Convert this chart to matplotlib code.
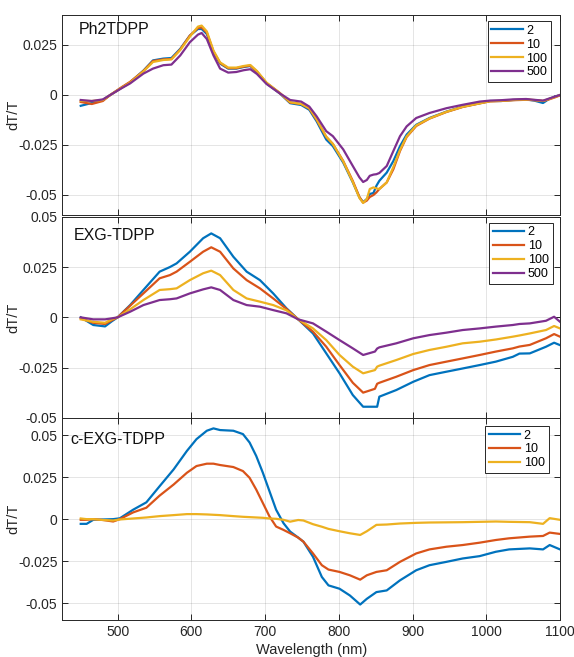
import numpy as np
import matplotlib
matplotlib.use('Agg')
import matplotlib.pyplot as plt
from matplotlib.ticker import FuncFormatter

plt.rcParams['font.family'] = ['Liberation Sans', 'DejaVu Sans']
plt.rcParams['axes.unicode_minus'] = False

colors = ['#0072BD', '#D95319', '#EDB120', '#7E2F8E']

# ---- Ph2TDPP ----
wl1 = [450, 465, 480, 490, 505, 517, 535, 548, 562, 573, 585, 598, 609, 614, 621, 630, 639, 650, 661, 671,
       680, 689, 702, 720, 734, 749, 760, 770, 783, 792, 806, 819, 828, 833, 838, 842, 847, 851, 855, 865,
       874, 883, 892, 905, 923, 946, 968, 991, 1005, 1020, 1036, 1054, 1065, 1077, 1085, 1093, 1100]
p1_2 = [-0.0054, -0.004, -0.0025, 0.0, 0.0035, 0.0063, 0.0122, 0.0173, 0.0182, 0.0185,
        0.0231, 0.0297, 0.033, 0.033, 0.0305, 0.0214, 0.0157, 0.0132, 0.0132, 0.014,
        0.0145, 0.0115, 0.0058, 0.0008, -0.0041, -0.005, -0.0074, -0.0132, -0.0223, -0.0256,
        -0.0338, -0.0437, -0.0512, -0.0536, -0.052, -0.0495, -0.049, -0.0454, -0.0429, -0.0388,
        -0.033, -0.0256, -0.0198, -0.0149, -0.0115, -0.0083, -0.0058, -0.0041, -0.003, -0.003,
        -0.0025, -0.0022, -0.0028, -0.004, -0.002, -0.0008, 0.0]
p1_10 = [-0.0035, -0.0045, -0.003, 0.0, 0.0038, 0.0066, 0.012, 0.017, 0.0178, 0.018,
         0.0228, 0.0297, 0.0335, 0.0338, 0.0312, 0.0218, 0.016, 0.0134, 0.0134, 0.0142,
         0.0147, 0.0117, 0.006, 0.001, -0.0038, -0.0045, -0.0068, -0.0125, -0.021, -0.0245,
         -0.033, -0.043, -0.051, -0.0538, -0.0528, -0.051, -0.05, -0.0487, -0.047, -0.0437,
         -0.0371, -0.028, -0.021, -0.0155, -0.0118, -0.0085, -0.006, -0.0042, -0.0032, -0.003,
         -0.0026, -0.0024, -0.0026, -0.003, -0.0022, -0.0012, -0.0002]
p1_100 = [-0.003, -0.003, -0.0025, 0.0, 0.0035, 0.0062, 0.0118, 0.0165, 0.0175, 0.0178,
          0.0225, 0.0292, 0.0342, 0.0347, 0.0318, 0.0222, 0.0163, 0.0137, 0.0137, 0.0145,
          0.015, 0.012, 0.0062, 0.001, -0.0036, -0.0045, -0.0066, -0.0122, -0.0208, -0.0245,
          -0.0332, -0.0435, -0.0515, -0.054, -0.052, -0.047, -0.0462, -0.0467, -0.047, -0.0437,
          -0.036, -0.0275, -0.0207, -0.0152, -0.0117, -0.0084, -0.0059, -0.0042, -0.0031, -0.0029,
          -0.0025, -0.0023, -0.0025, -0.003, -0.002, -0.001, 0.0]
p1_500 = [-0.0025, -0.003, -0.0022, 0.0, 0.0033, 0.0058, 0.0107, 0.0132, 0.0149, 0.0152,
          0.0198, 0.0264, 0.0302, 0.031, 0.028, 0.0198, 0.0132, 0.0112, 0.0115, 0.0124,
          0.0129, 0.0105, 0.0055, 0.0008, -0.0025, -0.0033, -0.0058, -0.0107, -0.0181, -0.0206,
          -0.0272, -0.0355, -0.0412, -0.0435, -0.0425, -0.0404, -0.0398, -0.0396, -0.039, -0.0355,
          -0.028, -0.0206, -0.0157, -0.0115, -0.009, -0.0066, -0.0049, -0.0033, -0.0028, -0.0026,
          -0.0022, -0.002, -0.0024, -0.0028, -0.0018, -0.0008, 0.0]

# ---- EXG-TDPP ----
wl2 = [450, 467, 483, 492, 500, 517, 535, 557, 571, 580, 598, 616, 627, 639, 657, 675, 693, 711, 729, 745,
       765, 783, 801, 819, 833, 849, 852, 855, 878, 901, 923, 946, 968, 991, 1013, 1036, 1045, 1059, 1081,
       1092, 1100]
p2_2 = [0.0, -0.0038, -0.0045, -0.002, 0.0, 0.0061, 0.0136, 0.0227, 0.025, 0.0268,
        0.0326, 0.0393, 0.0417, 0.0393, 0.0301, 0.0227, 0.0185, 0.0119, 0.0045, -0.001,
        -0.008, -0.0179, -0.0278, -0.0386, -0.0444, -0.0444, -0.0444, -0.0394, -0.0361, -0.032,
        -0.0287, -0.027, -0.0254, -0.0237, -0.022, -0.0196, -0.018, -0.0179, -0.0146, -0.0126,
        -0.0138]
p2_10 = [-0.0005, -0.0027, -0.0033, -0.0015, 0.0, 0.0058, 0.0119, 0.0194, 0.021, 0.0227,
         0.0276, 0.0326, 0.0348, 0.0326, 0.0243, 0.0185, 0.0144, 0.0094, 0.0042, -0.001,
         -0.0071, -0.0146, -0.0237, -0.0325, -0.0374, -0.0355, -0.033, -0.0325, -0.0295, -0.0262,
         -0.0237, -0.022, -0.0204, -0.0187, -0.017, -0.0154, -0.0145, -0.0137, -0.0104, -0.0083,
         -0.0096]
p2_100 = [-0.001, -0.0022, -0.0027, -0.001, 0.0, 0.004, 0.0086, 0.0136, 0.014, 0.0144,
          0.0185, 0.0219, 0.0232, 0.021, 0.0136, 0.0094, 0.0078, 0.0061, 0.0035, -0.001,
          -0.0055, -0.0113, -0.0187, -0.0245, -0.0278, -0.0262, -0.0245, -0.024, -0.0212, -0.0182,
          -0.0162, -0.0146, -0.0129, -0.0121, -0.011, -0.0096, -0.009, -0.008, -0.0063, -0.0043,
          -0.0055]
p2_500 = [0.0, -0.001, -0.001, -0.0005, 0.0, 0.0028, 0.0061, 0.0086, 0.009, 0.0094,
          0.0119, 0.0139, 0.0149, 0.0136, 0.0086, 0.0061, 0.0053, 0.0036, 0.002, -0.001,
          -0.003, -0.0071, -0.0113, -0.0154, -0.0187, -0.017, -0.0155, -0.0149, -0.0129, -0.0104,
          -0.0088, -0.0076, -0.0063, -0.0055, -0.0046, -0.0038, -0.0033, -0.003, -0.0017, 0.0003,
          -0.0022]

# ---- c-EXG-TDPP ----
wl3 = [450, 458, 467, 480, 494, 503, 521, 539, 557, 576, 594, 607, 621, 630, 639, 657, 670, 679, 688, 697,
       706, 715, 725, 734, 745, 752, 765, 777, 786, 801, 815, 829, 838, 851, 865, 883, 905, 923, 946, 968,
       991, 1013, 1031, 1059, 1077, 1086, 1100]
p3_2 = [-0.0028, -0.0028, -0.0004, -0.0002, 0.0, 0.0005, 0.0056, 0.01, 0.0196, 0.0296,
        0.0406, 0.0476, 0.0526, 0.054, 0.053, 0.0526, 0.0506, 0.0456, 0.0376, 0.0276,
        0.0166, 0.0056, -0.0024, -0.0074, -0.011, -0.0134, -0.0224, -0.0344, -0.0394, -0.0414,
        -0.0454, -0.0508, -0.0474, -0.0434, -0.0424, -0.0364, -0.0304, -0.0274, -0.0254, -0.0234,
        -0.022, -0.0194, -0.018, -0.0174, -0.018, -0.0154, -0.018]
p3_10 = [-0.0004, -0.0004, 0.0, -0.0005, -0.0014, 0.0, 0.004, 0.0068, 0.014, 0.0206,
         0.0276, 0.0316, 0.033, 0.033, 0.0322, 0.031, 0.0286, 0.0246, 0.0176, 0.0096,
         0.0016, -0.0044, -0.0064, -0.0084, -0.011, -0.0134, -0.0204, -0.0274, -0.03, -0.0314,
         -0.0334, -0.036, -0.0334, -0.0314, -0.0304, -0.0254, -0.0204, -0.018, -0.0164, -0.0154,
         -0.014, -0.0124, -0.0114, -0.0104, -0.01, -0.008, -0.0088]
p3_100 = [0.0004, 0.0, 0.0, -0.0005, -0.0008, -0.0002, 0.0004, 0.001, 0.0018, 0.0024,
          0.003, 0.003, 0.0028, 0.0026, 0.0024, 0.0018, 0.0014, 0.0012, 0.001, 0.0008,
          0.0004, 0.0002, -0.0004, -0.0015, -0.0005, -0.0008, -0.003, -0.0045, -0.0058, -0.0072,
          -0.0084, -0.0094, -0.0072, -0.0034, -0.0032, -0.0026, -0.0022, -0.002, -0.0019, -0.0018,
          -0.0016, -0.0014, -0.0016, -0.0018, -0.0028, 0.0006, -0.0004]

panels = [
    ('Ph2TDPP', wl1, [p1_2, p1_10, p1_100, p1_500], ['2', '10', '100', '500'], (-0.06, 0.04)),
    ('EXG-TDPP', wl2, [p2_2, p2_10, p2_100, p2_500], ['2', '10', '100', '500'], (-0.05, 0.05)),
    ('c-EXG-TDPP', wl3, [p3_2, p3_10, p3_100], ['2', '10', '100'], (-0.06, 0.06)),
]

W, H = 574, 657
fig = plt.figure(figsize=(W / 100, H / 100), dpi=100)
boxes = [(15, 215), (216.7, 418), (418.3, 620)]
left, right = 62.3, 560
leg_pos = [(0.982, 0.97), (0.985, 0.97), (0.977, 0.963)]
label_pos = [(0.034, 0.925), (0.024, 0.909), (0.017, 0.897)]

fmt = FuncFormatter(lambda v, p: '%g' % round(v, 4))
for i, (name, wl, series, labs, ylim) in enumerate(panels):
    top, bot = boxes[i]
    ax = fig.add_axes([left / W, 1 - bot / H, (right - left) / W, (bot - top) / H])
    for s, c, l in zip(series, colors, labs):
        ax.plot(wl, s, color=c, lw=1.6, label=l, solid_joinstyle='round')
    ax.set_xticks([500, 600, 700, 800, 900, 1000, 1100])
    ax.set_yticks([-0.05, -0.025, 0, 0.025, 0.05])
    ax.set_xlim(425, 1100)
    ax.set_ylim(*ylim)
    ax.yaxis.set_major_formatter(fmt)
    ax.grid(True, color='#262626', alpha=0.12, lw=0.7)
    ax.tick_params(direction='in', top=True, right=True, length=4, width=0.7,
                   colors='#262626', labelsize=10)
    for sp in ax.spines.values():
        sp.set_color('#262626')
        sp.set_linewidth(0.7)
    if i < 2:
        ax.tick_params(labelbottom=False)
    else:
        ax.set_xlabel('Wavelength (nm)', fontsize=10.5, color='#262626', labelpad=3)
    ax.set_ylabel('dT/T', fontsize=10.5, color='#262626')
    ax.yaxis.set_label_coords(-0.085, 0.5)
    ax.text(label_pos[i][0], label_pos[i][1], name, transform=ax.transAxes,
            fontsize=11.5, va='center', ha='left', color='#111111')
    leg = ax.legend(loc='upper right', bbox_to_anchor=leg_pos[i], borderaxespad=0,
                    fontsize=9, handlelength=2.5, handletextpad=0.3, borderpad=0.3,
                    labelspacing=0.15, fancybox=False, framealpha=1)
    leg.get_frame().set_edgecolor('#262626')
    leg.get_frame().set_linewidth(0.7)

fig.savefig('out.png', dpi=100)
